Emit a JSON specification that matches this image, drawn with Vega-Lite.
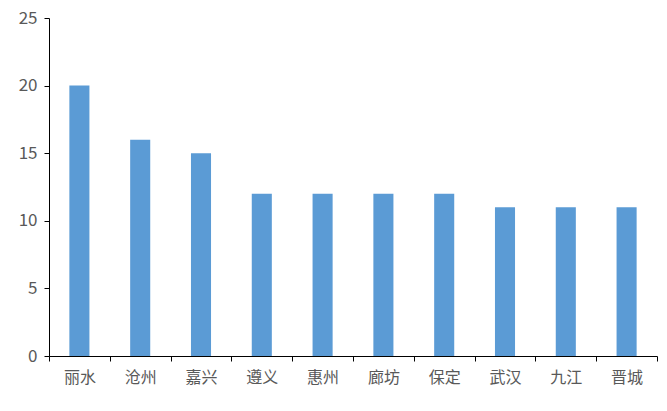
{
  "$schema": "https://vega.github.io/schema/vega-lite/v6.json",
  "autosize": {"type": "none"},
  "padding": {"left": 49, "top": 18, "right": 10, "bottom": 55},
  "width": 608,
  "height": 338,
  "background": "white",
  "config": {"view": {"stroke": null}, "font": "Noto Sans CJK SC"},
  "data": {"values": [
    {"city": "丽水", "value": 20},
    {"city": "沧州", "value": 16},
    {"city": "嘉兴", "value": 15},
    {"city": "遵义", "value": 12},
    {"city": "惠州", "value": 12},
    {"city": "廊坊", "value": 12},
    {"city": "保定", "value": 12},
    {"city": "武汉", "value": 11},
    {"city": "九江", "value": 11},
    {"city": "晋城", "value": 11}
  ]},
  "mark": {"type": "bar", "color": "#5B9BD5", "width": {"band": 0.33}},
  "encoding": {
    "x": {
      "field": "city", "type": "nominal", "sort": null,
      "scale": {"paddingInner": 0, "paddingOuter": 0},
      "axis": {
        "title": null, "labelAngle": 0, "labelFontSize": 16, "labelColor": "#595959",
        "labelFont": "Noto Sans CJK SC",
        "domainColor": "#000000", "tickColor": "#000000", "tickSize": 5,
        "tickBand": "extent", "labelPadding": 8, "grid": false
      }
    },
    "y": {
      "field": "value", "type": "quantitative",
      "scale": {"domain": [0, 25]},
      "axis": {
        "title": null, "values": [0, 5, 10, 15, 20, 25], "labelFontSize": 17,
        "labelColor": "#595959", "labelFont": "Noto Sans CJK SC",
        "domainColor": "#000000", "tickColor": "#000000", "tickSize": 5,
        "labelPadding": 7, "grid": false
      }
    }
  }
}
